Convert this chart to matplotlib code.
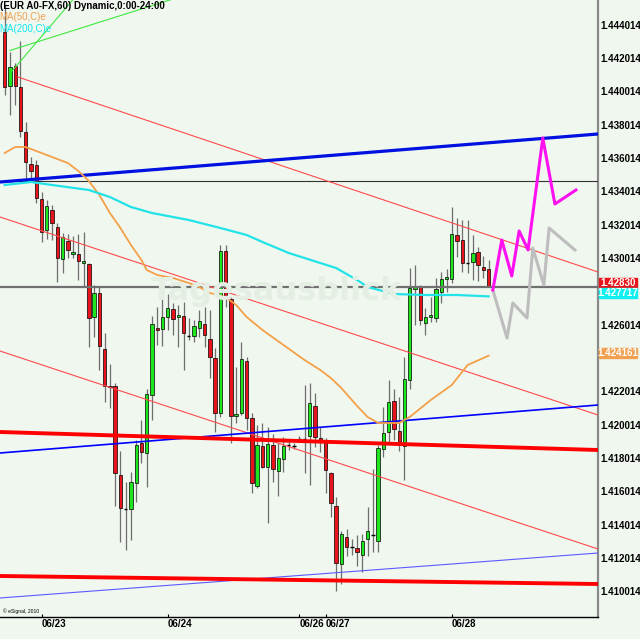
import numpy as np
import matplotlib
matplotlib.use('Agg')
import matplotlib.pyplot as plt
import matplotlib.transforms as mtransforms
from matplotlib.patches import Rectangle

# hourly EUR A0-FX candles
opens = [1.44358, 1.44034, 1.44154, 1.44028, 1.43758, 1.43566, 1.43560, 1.43356, 1.43170, 1.43290,
         1.43188, 1.42996, 1.43104, 1.43026, 1.43026, 1.42972, 1.42966, 1.42648, 1.42792, 1.42456,
         1.42234, 1.42234, 1.41700, 1.41496, 1.41496, 1.41652, 1.41892, 1.41832, 1.42180, 1.42582,
         1.42576, 1.42648, 1.42696, 1.42648, 1.42654, 1.42534, 1.42534, 1.42582, 1.42606, 1.42516,
         1.42402, 1.42072, 1.43044, 1.42756, 1.42054, 1.42072, 1.42384, 1.42042, 1.41634, 1.41874,
         1.41748, 1.41880, 1.41724, 1.41796, 1.41880, 1.41874, 1.41916, 1.41916, 1.41934, 1.42114,
         1.41922, 1.41904, 1.41712, 1.41514, 1.41166, 1.41328, 1.41268, 1.41262, 1.41220, 1.41316,
         1.41340, 1.41304, 1.41856, 1.41958, 1.42144, 1.41964, 1.41874, 1.42270, 1.42816, 1.42828,
         1.42612, 1.42648, 1.42642, 1.42798, 1.42876, 1.42876, 1.43140, 1.43110, 1.42972, 1.42978,
         1.43038, 1.42948, 1.42936]
highs = [1.44520, 1.44238, 1.44172, 1.44304, 1.43818, 1.43608, 1.43590, 1.43398, 1.43350, 1.43320,
         1.43212, 1.43152, 1.43146, 1.43134, 1.43146, 1.43158, 1.42972, 1.42840, 1.42828, 1.42552,
         1.42366, 1.42252, 1.41844, 1.41658, 1.41718, 1.41910, 1.42030, 1.42216, 1.42654, 1.42708,
         1.42768, 1.42786, 1.42732, 1.42720, 1.42738, 1.42642, 1.42630, 1.42690, 1.42708, 1.42690,
         1.42462, 1.43080, 1.43080, 1.42768, 1.42348, 1.42498, 1.42408, 1.42072, 1.42000, 1.42012,
         1.41988, 1.41946, 1.41892, 1.41928, 1.41910, 1.41892, 1.41934, 1.42240, 1.42252, 1.42192,
         1.41988, 1.41922, 1.41718, 1.41568, 1.41364, 1.41376, 1.41316, 1.41340, 1.41346, 1.41508,
         1.41736, 1.41880, 1.42108, 1.42270, 1.42216, 1.42168, 1.42408, 1.42942, 1.42960, 1.42840,
         1.42702, 1.42768, 1.42882, 1.42918, 1.42936, 1.43308, 1.43242, 1.43230, 1.43230, 1.43140,
         1.43068, 1.43014, 1.42990]
lows = [1.43980, 1.43860, 1.43920, 1.43728, 1.43470, 1.43458, 1.43332, 1.43098, 1.43116, 1.43110,
        1.42858, 1.42912, 1.43002, 1.43002, 1.42870, 1.42828, 1.42468, 1.42528, 1.42330, 1.42138,
        1.42102, 1.41514, 1.41298, 1.41250, 1.41310, 1.41538, 1.41772, 1.41628, 1.42030, 1.42480,
        1.42474, 1.42570, 1.42540, 1.42468, 1.42330, 1.42510, 1.42498, 1.42528, 1.42468, 1.42282,
        1.41958, 1.42048, 1.42708, 1.41892, 1.42012, 1.42060, 1.41970, 1.41592, 1.41622, 1.41742,
        1.41412, 1.41658, 1.41574, 1.41718, 1.41850, 1.41856, 1.41898, 1.41712, 1.41640, 1.41868,
        1.41838, 1.41592, 1.41448, 1.41004, 1.41046, 1.41214, 1.41220, 1.41154, 1.41118, 1.41214,
        1.41238, 1.41238, 1.41808, 1.41898, 1.41910, 1.41844, 1.41670, 1.42216, 1.42600, 1.42600,
        1.42540, 1.42618, 1.42618, 1.42732, 1.42798, 1.42852, 1.43008, 1.42918, 1.42912, 1.42870,
        1.42864, 1.42882, 1.42828]
closes = [1.44028, 1.44148, 1.44034, 1.43764, 1.43578, 1.43524, 1.43362, 1.43158, 1.43314, 1.43212,
          1.43002, 1.43128, 1.43050, 1.43038, 1.42984, 1.42984, 1.42642, 1.42792, 1.42474, 1.42234,
          1.42228, 1.41712, 1.41502, 1.41496, 1.41658, 1.41880, 1.41838, 1.42186, 1.42606, 1.42570,
          1.42648, 1.42702, 1.42636, 1.42660, 1.42552, 1.42534, 1.42594, 1.42624, 1.42540, 1.42408,
          1.42072, 1.43044, 1.42762, 1.42054, 1.42066, 1.42396, 1.42042, 1.41652, 1.41880, 1.41748,
          1.41886, 1.41736, 1.41802, 1.41874, 1.41880, 1.41874, 1.41916, 1.41916, 1.42132, 1.41928,
          1.41910, 1.41730, 1.41532, 1.41172, 1.41346, 1.41268, 1.41268, 1.41238, 1.41304, 1.41364,
          1.41340, 1.41862, 1.41952, 1.42138, 1.41976, 1.41880, 1.42276, 1.42822, 1.42828, 1.42630,
          1.42648, 1.42660, 1.42816, 1.42876, 1.42888, 1.43146, 1.43104, 1.42972, 1.42972, 1.43032,
          1.42960, 1.42930, 1.42830]

# moving averages (bar index, value)
ma50_idx = [0, 2, 4, 6, 9, 12, 14, 16, 18, 20, 22, 24, 26, 27, 29, 32, 35, 37, 39, 42, 44, 46,
            49, 53, 57, 60, 62, 64, 67, 69, 71, 75, 77, 81, 85, 88, 92]
ma50_val = [1.43632, 1.43668, 1.43668, 1.43644, 1.43608, 1.43572, 1.43524, 1.43464, 1.43380,
            1.43272, 1.43182, 1.43080, 1.42990, 1.42930, 1.42900, 1.42882, 1.42852, 1.42828,
            1.42792, 1.42768, 1.42720, 1.42648, 1.42570, 1.42480, 1.42390, 1.42330, 1.42282,
            1.42222, 1.42114, 1.42048, 1.42012, 1.42012, 1.42048, 1.42150, 1.42240, 1.42360,
            1.42416]
ma200_idx = [0, 5, 9, 16, 20, 24, 28, 35, 41, 46, 49, 54, 60, 63, 67, 69, 74, 80, 86, 92]
ma200_val = [1.43440, 1.43458, 1.43440, 1.43410, 1.43368, 1.43308, 1.43272, 1.43230, 1.43182,
             1.43140, 1.43098, 1.43032, 1.42972, 1.42942, 1.42870, 1.42828, 1.42786, 1.42780,
             1.42780, 1.427717]

# forecast paths
pink_idx = [92.8, 94.5, 96.4, 97.8, 99.5, 102.3, 104.6, 108.6]
pink_val = [1.42810, 1.43110, 1.42894, 1.43164, 1.43050, 1.43722, 1.43326, 1.43410]
gray_idx = [92.8, 95.5, 96.6, 99.3, 100.4, 102.5, 103.5, 108.4]
gray_val = [1.42810, 1.42522, 1.42732, 1.42642, 1.43062, 1.42840, 1.43182, 1.43050]

# drawn lines (start idx, end idx, start price, end price)
blue_lines = [(-0.9, 112.8, 1.43458, 1.43746), (-0.9, 112.8, 1.41832, 1.42120),
              (-0.9, 112.8, 1.40962, 1.41232)]
red_thick = [(-0.9, 112.8, 1.41958, 1.41850), (-0.9, 112.8, 1.41094, 1.41046)]
red_thin = [(2.5, 112.8, 1.44088, 1.42918), (-0.9, 112.8, 1.43248, 1.42060),
            (-0.9, 112.8, 1.42444, 1.41256)]
green_lines = [(1.0, 37.1, 1.44247, 1.44607), (1.4, 14.3, 1.44124, 1.44601)]
level_black = 1.43467
last_price = 1.42830

date_pos = [7, 31, 56, 61, 85]
date_lab = ['06/23', '06/24', '06/26', '06/27', '06/28']
ytick_vals = [1.410014, 1.412014, 1.414014, 1.416014, 1.418014, 1.420014, 1.422014,
              1.426014, 1.430014, 1.432014, 1.434014, 1.436014, 1.438014, 1.440014,
              1.442014, 1.444014]

BG = '#f0f7ef'
RED = '#e8141b'
GREEN = '#1ee61e'
SANS = ['Liberation Sans', 'DejaVu Sans']

fig = plt.figure(figsize=(6.4, 6.39), dpi=100, facecolor=BG)
ax = fig.add_axes([0, 22 / 639, 598 / 640, 617 / 639], facecolor=BG)

o = np.array(opens)
h = np.array(highs)
l = np.array(lows)
c = np.array(closes)
idx = np.arange(len(o))
up = c > o
dn = c < o
fl = c == o
w = 0.64

ax.vlines(idx, l, h, color='#6e6e6e', lw=0.9, zorder=3)
ax.bar(idx[up], (c - o)[up], bottom=o[up], width=w, color=GREEN,
       edgecolor='black', linewidth=0.5, zorder=4)
ax.bar(idx[dn], (o - c)[dn], bottom=c[dn], width=w, color=RED,
       edgecolor='black', linewidth=0.5, zorder=4)
ax.hlines(o[fl], idx[fl] - w / 2, idx[fl] + w / 2, color='black', lw=1.0, zorder=4)

# horizontal levels
ax.axhline(level_black, color='#333333', lw=0.8, zorder=5)
ax.axhline(last_price, color='#707070', lw=1.6, zorder=5)

# trend lines
for x0, x1, y0, y1 in red_thin:
    ax.plot([x0, x1], [y0, y1], color='#ff4b4b', lw=0.8, zorder=5)
for x0, x1, y0, y1 in green_lines:
    ax.plot([x0, x1], [y0, y1], color='#3ee83e', lw=0.8, zorder=5)
for k, (x0, x1, y0, y1) in enumerate(blue_lines):
    lw = [2.3, 1.2, 0.8][k]
    col = ['#0010e0', '#0000ff', '#5a5aff'][k]
    ax.plot([x0, x1], [y0, y1], color=col, lw=lw, zorder=5)
for x0, x1, y0, y1 in red_thick:
    ax.plot([x0, x1], [y0, y1], color='#ff0000', lw=2.8, zorder=5)

# moving averages
ax.plot(ma50_idx, ma50_val, color='#f4a048', lw=1.3, zorder=6)
ax.plot(ma200_idx, ma200_val, color='#22e3e8', lw=1.6, zorder=6)

# forecast
ax.plot(gray_idx, gray_val, color='#bdbdbd', lw=2.2, zorder=7)
ax.plot(pink_idx, pink_val, color='#ff10f0', lw=2.2, zorder=7)

ax.set_xlim(-0.8935, 112.795)
ax.set_ylim(1.40848, 1.4455)

for s in ['top', 'left']:
    ax.spines[s].set_visible(False)
ax.spines['right'].set_color('#8a8a8a')
ax.spines['right'].set_linewidth(1.6)
ax.spines['bottom'].set_color('black')
ax.spines['bottom'].set_linewidth(1.0)

ax.set_xticks(date_pos)
ax.set_xticklabels(date_lab, family=SANS, weight='bold', fontsize=7, ha='left')
ax.tick_params(axis='x', direction='in', length=2, width=0.8, pad=1.2)
ax.yaxis.tick_right()
ax.set_yticks(ytick_vals)
ax.set_yticklabels(['%.6f' % v for v in ytick_vals], family=SANS, weight='bold', fontsize=7)
ax.tick_params(axis='y', length=0, pad=1.4)

# value boxes on the price axis
tr = mtransforms.blended_transform_factory(ax.transAxes, ax.transData)
boxes = [(last_price - 0.0001, RED, '1.42830'),
         (last_price - 0.0007, '#10f0f0', '%.6f' % ma200_val[-1]),
         (ma50_val[-1] - 0.00015, '#f0a050', '%.6f' % 1.424161)]
for y0, col, txt in boxes:
    ax.add_patch(Rectangle((1.0017, y0), 0.0635, 0.0006, transform=tr, color=col,
                           clip_on=False, zorder=10))
    ax.text(1.0335, y0 + 0.0003, txt, transform=tr, color='white', ha='center',
            va='center', family=SANS, weight='bold', fontsize=7, clip_on=False, zorder=11)

# watermark and header texts
fig.text(277 / 640, 1 - 300 / 639, 'Tagesausblick', fontsize=23, weight='bold',
         color='#e4eee3', ha='center', va='baseline', zorder=0)
fig.text(0, 1 - 9 / 639, '(EUR A0-FX,60) Dynamic,0:00-24:00', family=SANS,
         weight='bold', fontsize=7, va='baseline')
fig.text(-1 / 640, 1 - 20 / 639, 'MA(50,C)e', family=SANS, fontsize=7,
         color='#f0a050', va='baseline')
fig.text(-1 / 640, 1 - 32 / 639, 'MA(200,C)e', family=SANS, fontsize=7,
         color='#10e8f0', va='baseline')
fig.text(3 / 640, 1 - 613 / 639, '\u00a9 eSignal, 2010', family=SANS, fontsize=3.6)

fig.savefig('out.png', dpi=100, facecolor=BG)
